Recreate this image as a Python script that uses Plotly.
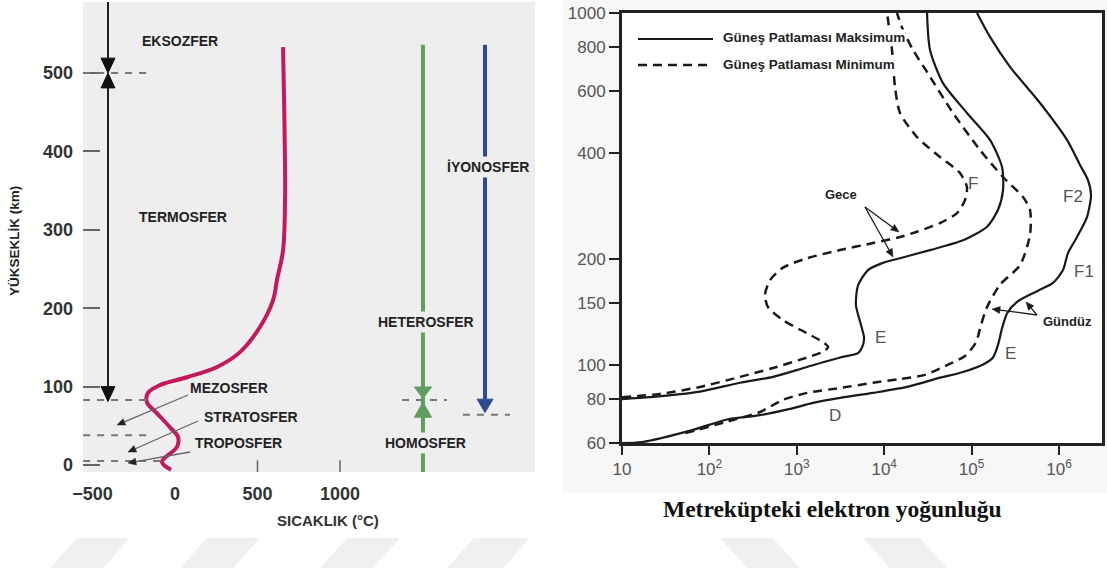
import math
import plotly.graph_objects as go

W, H = 1107, 570
SANS = "Liberation Sans, Arial, sans-serif"
SERIF = "Liberation Serif, Times New Roman, serif"


def fx(x):
    return x / W


def fy(y):
    return 1 - y / H


# ---- Left panel: temperature vs altitude ----
temp_c = [-24, -79, 12, 18, -30, -109, -170, -164, -91, 73, 255, 394, 515, 594,
          618, 655, 667, 667, 661, 655]
temp_alt_km = [-6, 4, 23, 36, 48, 66, 80, 92, 102, 112, 125, 144, 176, 210,
               236, 274, 338, 380, 466, 533]
temp_ticks = [-500, 0, 500, 1000]
temp_tick_text = ["\u2212500", "0", "500", "1000"]
alt_ticks = [0, 100, 200, 300, 400, 500]

# ---- Right panel: electron density profiles (per m^3) vs height (km) ----
night_max_ne = [10, 21, 78, 224, 534, 1310, 3120, 5010, 5720, 5870, 5280, 4750,
                5010, 6530, 9690, 15160, 33440, 79800, 150000, 200600, 228800,
                222900, 162400, 88500, 47060, 33440, 30900]
night_max_km = [80, 81, 84, 89, 92.5, 98.7, 105, 108, 114, 120, 133, 148,
                168, 186, 195, 201, 212, 226, 247, 276, 314,
                365, 436, 520, 632, 785, 1000]

night_min_ne = [10, 27, 78, 224, 534, 1310, 2000, 2280, 2000, 1310, 695, 468,
                432, 493, 695, 1310, 3120, 7450, 15160, 23700, 43460, 68080,
                83980, 88500, 73640, 43460, 23730, 15160, 13290, 12280, 10770]
night_min_km = [81, 82.7, 86.6, 92.5, 98, 105, 109, 112.5, 116, 123, 134, 146,
                158, 174, 189, 201, 212, 222, 231, 239, 253, 270,
                294, 320, 351, 390, 444, 520, 616, 785, 1000]

day_max_ne = [10, 17, 65, 159, 379, 836, 1530, 3120, 7450, 18230, 43460, 79800,
              142300, 175800, 200600, 222900, 254400, 330600, 560000, 853600,
              1111000, 1268000, 1607000, 2091000, 2323000, 2146000, 1739000,
              1235000, 606500, 275000, 162400, 115300]
day_max_km = [60, 60.4, 65.4, 70, 72, 75, 78, 80.6, 83.3, 86.6, 92, 95.5,
              101, 105, 114, 127, 140, 151, 162, 171,
              186, 208, 231, 263, 304, 335, 370,
              436, 555, 703, 855, 1000]

day_min_ne = [53, 159, 379, 695, 1310, 3120, 7450, 15160, 29300, 49700, 84000,
              112200, 128300, 150000, 211500, 357700, 465600, 465600, 387300,
              228800, 124800, 61240, 30900, 21370, 16410, 14000]
day_min_km = [64, 69, 73.5, 79.6, 83.3, 86, 89, 91.2, 93.7, 99.3, 106,
              116, 130, 146, 169, 192, 234, 276, 300,
              342, 408, 520, 680, 785, 895, 1000]

ne_ticks = [10, 100, 1000, 10000, 100000, 1000000]
ne_tick_text = ["10", "10<sup>2</sup>", "10<sup>3</sup>", "10<sup>4</sup>",
                "10<sup>5</sup>", "10<sup>6</sup>"]
km_ticks = [60, 80, 100, 150, 200, 400, 600, 800, 1000]

MAGENTA = "#c4195c"
GREEN = "#5f9e5f"
BLUE = "#2d4b8e"
INK = "#1a1a1a"

fig = go.Figure()

fig.add_trace(go.Scatter(
    x=temp_c, y=temp_alt_km, mode="lines", xaxis="x", yaxis="y",
    line=dict(color=MAGENTA, width=4, shape="spline", smoothing=1.0),
    hoverinfo="skip"))

for ne, km, dash in [(night_max_ne, night_max_km, "solid"),
                     (night_min_ne, night_min_km, "9px,6px"),
                     (day_max_ne, day_max_km, "solid"),
                     (day_min_ne, day_min_km, "9px,6px")]:
    fig.add_trace(go.Scatter(
        x=ne, y=km, mode="lines", xaxis="x2", yaxis="y2",
        line=dict(color=INK, width=2.2 if dash == "solid" else 2.5, dash=dash,
                  shape="spline", smoothing=0.7),
        hoverinfo="skip"))

shapes = []

# light backdrop behind the density panel
shapes.append(dict(type="rect", xref="paper", yref="paper", layer="below",
                   x0=fx(563), x1=1, y0=fy(493), y1=1,
                   fillcolor="#f7f7f7", line=dict(width=0)))
shapes.append(dict(type="rect", xref="x2 domain", yref="y2 domain", layer="below",
                   x0=0, x1=1, y0=0, y1=1, fillcolor="white", line=dict(width=0)))
# grey panel of the temperature chart
shapes.append(dict(type="rect", xref="x domain", yref="y domain", layer="below",
                   x0=0, x1=1, y0=0, y1=1, fillcolor="#eeeeee", line=dict(width=0)))

# faint diagonal bands along the bottom edge
for x0, x1, shift in [(50, 103, 27), (180, 233, 27), (320, 373, 27), (447, 503, 27),
                      (747, 800, -27), (890, 947, -27)]:
    path = (f"M {fx(x0)},{fy(568)} L {fx(x1)},{fy(568)} "
            f"L {fx(x1 + shift)},{fy(538)} L {fx(x0 + shift)},{fy(538)} Z")
    shapes.append(dict(type="path", path=path, xref="paper", yref="paper",
                       layer="below", fillcolor="#f0f0f0", line=dict(width=0)))


def seg(x0, y0, x1, y1, color, width=2, dash="solid", ref=("x", "y")):
    return dict(type="line", xref=ref[0], yref=ref[1], x0=x0, y0=y0, x1=x1, y1=y1,
                line=dict(color=color, width=width, dash=dash))


def tri(xc, base, tip, half, color):
    return dict(type="path", xref="x", yref="y",
                path=f"M {xc - half},{base} L {xc + half},{base} L {xc},{tip} Z",
                fillcolor=color, line=dict(color=color, width=1))


def pointer(tail, tip, color, head_color=None, width=1.3, head_len=8, head_half=3.5):
    """Thin leader line with a filled arrow head, given in page pixels."""
    tx, ty = tail
    px_, py_ = tip
    dx, dy = px_ - tx, py_ - ty
    n = math.hypot(dx, dy)
    ux, uy = dx / n, dy / n
    bx, by = px_ - ux * head_len, py_ - uy * head_len
    vx, vy = -uy * head_half, ux * head_half
    hc = head_color or color
    return [
        dict(type="line", xref="paper", yref="paper",
             x0=fx(tx), y0=fy(ty), x1=fx(bx), y1=fy(by),
             line=dict(color=color, width=width)),
        dict(type="path", xref="paper", yref="paper",
             path=(f"M {fx(px_)},{fy(py_)} L {fx(bx + vx)},{fy(by + vy)} "
                   f"L {fx(bx - vx)},{fy(by - vy)} Z"),
             fillcolor=hc, line=dict(color=hc, width=0.5)),
    ]


# dashed layer boundaries
GREY_DASH = "#777777"
shapes += [
    seg(-557, 500, -139, 500, GREY_DASH, 2, "7px,7px"),
    seg(-557, 83, -170, 83, GREY_DASH, 2, "7px,7px"),
    seg(-557, 38, -170, 38, GREY_DASH, 2, "7px,7px"),
    seg(-557, 5, -61, 5, GREY_DASH, 2, "7px,7px"),
    seg(1376, 83, 1648, 83, GREY_DASH, 2, "7px,7px"),
    seg(1745, 64, 2030, 64, GREY_DASH, 2, "7px,7px"),
]

# small x ticks inside the grey panel
shapes += [seg(500, 6, 500, -9, "#666666", 1.5), seg(1000, 6, 1000, -9, "#666666", 1.5)]

# thermosphere / exosphere extent arrows
XA = -406
shapes += [
    seg(XA, 591, XA, 519, "#222222", 2),
    tri(XA, 519, 500, 42, "#111111"),
    tri(XA, 481, 500, 42, "#111111"),
    seg(XA, 481, XA, 100, "#222222", 2),
    tri(XA, 100, 81, 42, "#111111"),
]

# heterosphere / homosphere line
XG = 1503
shapes += [
    seg(XG, 536, XG, -9, GREEN, 4),
    tri(XG, 99.5, 85, 52, GREEN),
    tri(XG, 61, 80, 52, GREEN),
]

# ionosphere line
XB = 1879
shapes += [
    seg(XB, 536, XB, 84, BLUE, 4),
    tri(XB, 84, 67, 48, BLUE),
]

# leader arrows for the layer names and the day/night notes
shapes += pointer((188, 395), (117, 425), "#666666", "#222222")
shapes += pointer((198, 421), (128, 452), "#666666", "#222222")
shapes += pointer((190, 452), (128, 463), "#666666", "#222222")
shapes += pointer((865, 207), (899, 232), INK)
shapes += pointer((865, 207), (893, 257), INK)
shapes += pointer((1037, 315), (992, 309), INK)
shapes += pointer((1037, 315), (1026, 302), INK)

# legend samples
shapes += [
    dict(type="line", xref="paper", yref="paper", x0=fx(638), x1=fx(713),
         y0=fy(39), y1=fy(39), line=dict(color=INK, width=2)),
    dict(type="line", xref="paper", yref="paper", x0=fx(638), x1=fx(713),
         y0=fy(65), y1=fy(65), line=dict(color=INK, width=2.5, dash="9px,6px")),
]


def label(text, x, y, size=14, color="#222222", bold=True, family=SANS,
          bg=None, anchor="center", angle=0, pad=2):
    d = dict(text=text, x=fx(x), y=fy(y), xref="paper", yref="paper",
             showarrow=False, xanchor=anchor, yanchor="middle", textangle=angle,
             font=dict(size=size, color=color, family=family,
                       weight="bold" if bold else "normal"))
    if bg:
        d.update(bgcolor=bg, borderpad=pad)
    return d


annotations = [
    label("EKSOZFER", 180, 41),
    label("TERMOSFER", 183, 217),
    label("MEZOSFER", 229, 388),
    label("STRATOSFER", 251, 417),
    label("TROPOSFER", 238, 443),
    label("İYONOSFER", 488, 167, bg="#eeeeee"),
    label("HETEROSFER", 426, 322, bg="#eeeeee"),
    label("HOMOSFER", 425, 443, bg="#eeeeee"),
    label("YÜKSEKLİK (km)", 14, 241, size=13.5, angle=-90),
    label("SICAKLIK (°C)", 328, 520, size=15, color="#333333"),

    label("Güneş Patlaması Maksimum", 722, 38, size=13.5, anchor="left",
          bg="white", pad=0),
    label("Güneş Patlaması Minimum", 722, 64, size=13.5, anchor="left",
          bg="white", pad=0),
    label("Gece", 841, 195, size=13),
    label("Gündüz", 1067, 321, size=13),
    label("F", 973, 183, size=17, color="#555555", bold=False),
    label("F2", 1073, 197, size=17, color="#555555", bold=False),
    label("F1", 1084, 272, size=17, color="#555555", bold=False),
    label("E", 880, 337, size=17, color="#555555", bold=False),
    label("E", 1010, 353, size=17, color="#555555", bold=False),
    label("D", 835, 415, size=17, color="#555555", bold=False),
    label("Metreküpteki elektron yoğunluğu", 832, 509, size=23.5, color="#111111",
          family=SERIF),
]

fig.update_layout(
    template="none",
    width=W, height=H, autosize=False,
    margin=dict(l=0, r=0, t=0, b=0, pad=0, autoexpand=False),
    paper_bgcolor="white", plot_bgcolor="white", showlegend=False,
    font=dict(family=SANS),
    xaxis=dict(domain=[fx(83), fx(535)], range=[-557.6, 2182], anchor="y",
               automargin=False,
               tickvals=temp_ticks, ticktext=temp_tick_text, ticks="",
               showgrid=False, zeroline=False, showline=False,
               ticklabelstandoff=9,
               tickfont=dict(size=18, color="#333333", weight="bold")),
    yaxis=dict(domain=[fy(472), fy(2)], range=[-8.9, 590.6], anchor="x",
               automargin=False,
               tickvals=alt_ticks, ticks="inside", ticklen=17, tickwidth=2,
               tickcolor="#666666", showgrid=False, zeroline=False, showline=False,
               ticklabelstandoff=9,
               tickfont=dict(size=18, color="#333333", weight="bold")),
    xaxis2=dict(type="log", domain=[fx(622), fx(1102)], range=[1, 6.492],
                anchor="y2", automargin=False,
                tickvals=ne_ticks, ticktext=ne_tick_text,
                ticks="outside", ticklen=9, tickwidth=2, tickcolor="#222222",
                showline=True, linewidth=3, linecolor="#222222", mirror=True,
                showgrid=False, zeroline=False,
                tickfont=dict(size=17, color="#555555")),
    yaxis2=dict(type="log", domain=[fy(443), fy(13)], range=[1.7782, 3],
                anchor="x2", automargin=False,
                tickvals=km_ticks, ticks="outside", ticklen=10,
                tickwidth=2, tickcolor="#222222",
                showline=True, linewidth=3, linecolor="#222222", mirror=True,
                showgrid=False, zeroline=False,
                tickfont=dict(size=17, color="#555555")),
    shapes=shapes,
    annotations=annotations,
)

# page without the browser's default body margin, so the figure fills the window
fig.write_html(
    "out.html",
    post_script="document.body.style.margin='0';"
                "document.body.style.overflow='hidden';",
)
